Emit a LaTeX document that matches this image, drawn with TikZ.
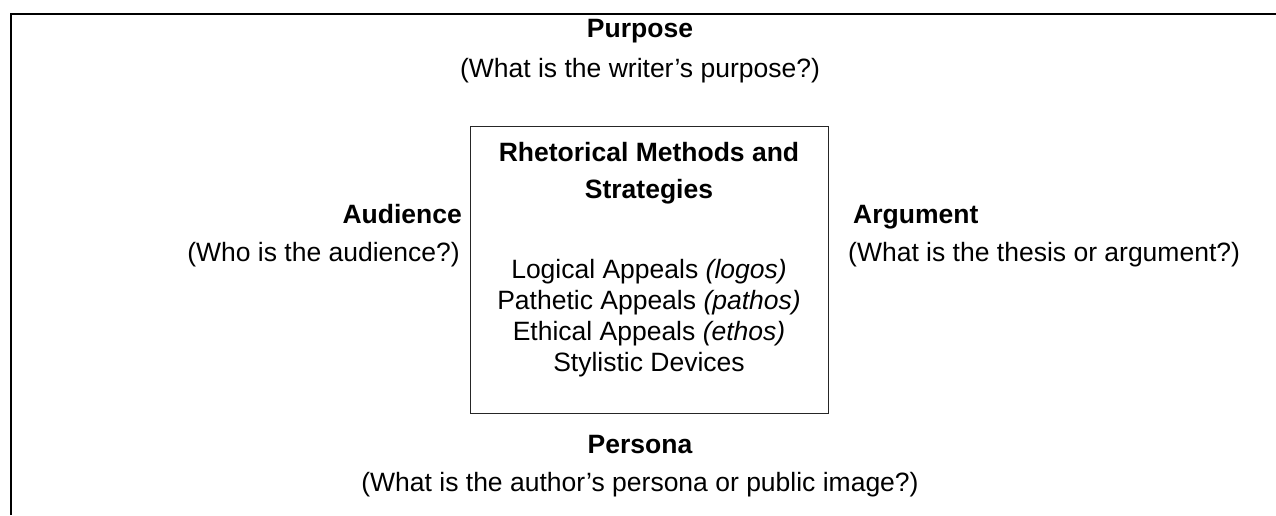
\documentclass[tikz,border=0pt]{standalone}
\usepackage{fontspec}
\setmainfont{Liberation Sans}
\begin{document}
\begin{tikzpicture}[x=1pt,y=-1pt,
  txt/.style={inner sep=0pt, font=\fontsize{26.5}{30}\selectfont},
  head/.style={txt, font=\fontsize{26.5}{30}\selectfont\bfseries},
  frame/.style={line width=2pt, black},
  boxstyle/.style={draw=black!85, line width=1.1pt, inner sep=0pt, anchor=north west}]
\useasboundingbox (0,0) rectangle (1276,515);
% outer frame
\coordinate (fbl) at (11,515);
\coordinate (ftl) at (11,14);
\coordinate (ftr) at (1276,14);
\draw[frame] (fbl) -- (ftl) -- (ftr);
% central box
\node[boxstyle, minimum width=358pt, minimum height=287pt] (box) at (470,126) {};
% top
\node[head, anchor=base] (purpose) at (640,37.5) {Purpose};
\node[txt, anchor=base] (purposeq) at (640,77.5) {(What is the writer’s purpose?)};
% box text
\node[head, anchor=base] (title1) at (649,161) {Rhetorical Methods and};
\node[head, anchor=base] (title2) at (649,198) {Strategies};
\node[txt, anchor=base] (logos) at (649,278) {Logical Appeals \textit{(logos)}};
\node[txt, anchor=base] (pathos) at (649,309) {Pathetic Appeals \textit{(pathos)}};
\node[txt, anchor=base] (ethos) at (649,340) {Ethical Appeals \textit{(ethos)}};
\node[txt, anchor=base] (style) at (649,371) {Stylistic Devices};
% left
\node[head, anchor=base east] (audience) at (462,223) {Audience};
\node[txt, anchor=base east] (audienceq) at (460,261) {(Who is the audience?)};
% right
\node[head, anchor=base west] (argument) at (853,223) {Argument};
\node[txt, anchor=base west] (argumentq) at (848,261) {(What is the thesis or argument?)};
% bottom
\node[head, anchor=base] (persona) at (640,453) {Persona};
\node[txt, anchor=base] (personaq) at (640,491) {(What is the author’s persona or public image?)};
\end{tikzpicture}
\end{document}
